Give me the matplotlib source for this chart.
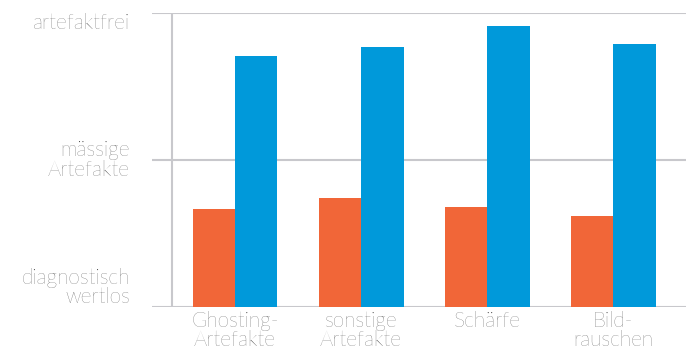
import numpy as np
import matplotlib.pyplot as plt

# Kategorien und Werte (Skala 1 = diagnostisch wertlos, 3 = artefaktfrei)
kategorien = ['Ghosting-\nArtefakte', 'sonstige\nArtefakte', 'Schärfe', 'Bild-\nrauschen']
werte_orange = [1.67, 1.74, 1.68, 1.62]
werte_blau = [2.71, 2.77, 2.91, 2.79]
y_ticks = [1, 2, 3]
y_labels = ['diagnostisch\nwertlos', 'mässige\nArtefakte', 'artefaktfrei']

plt.rcParams['font.family'] = ['Lato', 'DejaVu Sans']

fig = plt.figure(figsize=(6.92, 3.51), dpi=100)
ax = fig.add_axes([152/692, 1 - 307/351, (686 - 152)/692, (307 - 13)/351])

x = np.arange(len(kategorien))
b = 0.337
ax.bar(x - b/2, np.array(werte_orange) - 1, b, bottom=1, color='#F16638', zorder=3)
ax.bar(x + b/2, np.array(werte_blau) - 1, b, bottom=1, color='#0099DA', zorder=3)

ax.set_xlim(-0.659, 3.579)
ax.set_ylim(1, 3)
ax.set_yticks(y_ticks)
ax.set_yticklabels(y_labels, fontsize=15, color='#3a3a3a', fontweight='light',
                   linespacing=0.95)
labels = ax.get_yticklabels()
labels[0].set_verticalalignment('bottom')
labels[1].set_verticalalignment('center')
labels[2].set_verticalalignment('top')
ax.tick_params(axis='y', length=0, pad=16)

ax.set_xticks(x)
ax.set_xticklabels(kategorien, fontsize=15, color='#3a3a3a', fontweight='light',
                   linespacing=0.95)
ax.tick_params(axis='x', length=0, pad=3)

ax.grid(axis='y', color='#C8C8CC', linewidth=1.5, zorder=0)
for s in ['left', 'right', 'top', 'bottom']:
    ax.spines[s].set_visible(False)
ax.axvline(-0.5, color='#C8C8CC', linewidth=1.5, zorder=1)

fig.savefig('out.png', dpi=100)
